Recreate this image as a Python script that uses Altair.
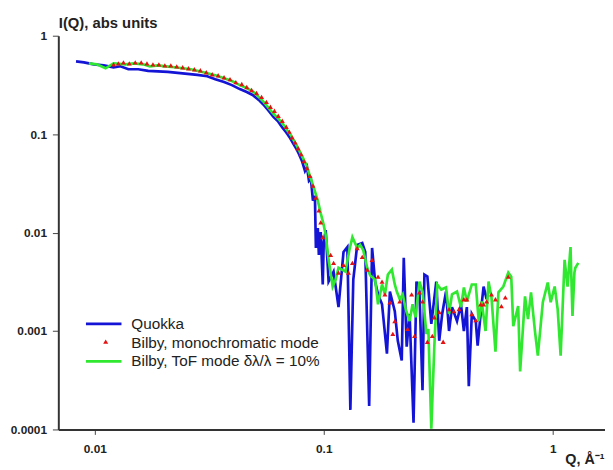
import altair as alt
import pandas as pd

FONT = "Liberation Sans"
BLUE = "#1414d6"
GREEN = "#2fe82f"
RED = "#e41212"

quokka_q = [0.00828, 0.00897, 0.0099, 0.01094, 0.01208, 0.01294, 0.01402, 0.01548, 0.0171, 0.01888,
            0.02084, 0.02301, 0.0254, 0.02806, 0.031, 0.0336, 0.0367, 0.0397, 0.043, 0.0461,
            0.0489, 0.052, 0.0546, 0.0574, 0.0603, 0.0633, 0.0659, 0.0686, 0.0714, 0.0735,
            0.0757, 0.078, 0.0804, 0.0828, 0.0845, 0.0862, 0.0879, 0.0897, 0.0915, 0.0924,
            0.0942, 0.0952, 0.097, 0.099, 0.1, 0.102, 0.105, 0.1104, 0.116, 0.122,
            0.1268, 0.1307, 0.1346, 0.140, 0.1473, 0.1518, 0.1579, 0.1626, 0.1676, 0.1726,
            0.1797, 0.1888, 0.1945, 0.2043, 0.2106, 0.2191, 0.2236, 0.2303, 0.2371, 0.2467,
            0.2541, 0.2618, 0.27, 0.2752, 0.2835, 0.295, 0.31, 0.3194, 0.3291, 0.342,
            0.3526, 0.3633, 0.382, 0.3974, 0.4093, 0.4217, 0.4301, 0.4433, 0.4613, 0.47,
            0.4844, 0.499, 0.5145]
quokka_i = [0.548, 0.536, 0.512, 0.5, 0.478, 0.489, 0.456, 0.456, 0.44, 0.434,
            0.43, 0.42, 0.41, 0.40, 0.388, 0.362, 0.338, 0.315, 0.287, 0.268,
            0.25, 0.223, 0.199, 0.173, 0.15, 0.134, 0.117, 0.104, 0.0906, 0.0807,
            0.0719, 0.0626, 0.0532, 0.0423, 0.0463, 0.0335, 0.0351, 0.0211, 0.0237, 0.00698,
            0.0111, 0.00593, 0.0101, 0.00297, 0.008, 0.0106, 0.00318, 0.00401, 0.00175, 0.00636,
            0.00714, 0.000158, 0.00333, 0.00748, 0.00783, 0.00636, 0.000173, 0.00698, 0.00318, 0.00236,
            0.00187, 0.000589, 0.00252, 0.00159, 0.000796, 0.000501, 0.00554, 0.000693, 0.00149, 0.000117,
            0.00318, 0.00252, 0.000251, 0.00374, 0.00357, 0.00118, 0.00318, 0.000796, 0.00149, 0.00252,
            0.001, 0.00175, 0.00126, 0.00187, 0.001, 0.00175, 0.000275, 0.00149, 0.00126, 0.00071,
            0.00149, 0.00283, 0.0021]

mono_q = [0.01208, 0.01268, 0.01334, 0.01415, 0.01502, 0.01595, 0.0169, 0.01795, 0.01905, 0.02023,
          0.02148, 0.0228, 0.0242, 0.02566, 0.02723, 0.02891, 0.03069, 0.03258, 0.03458, 0.0367,
          0.03896, 0.0413, 0.04385, 0.0461, 0.0484, 0.0509, 0.0535, 0.0562, 0.0585, 0.0609,
          0.0633, 0.0659, 0.0686, 0.0707, 0.0728, 0.075, 0.0773, 0.0796, 0.082, 0.0845,
          0.087, 0.0897, 0.0924, 0.0952, 0.097, 0.099,
          0.1072, 0.1104, 0.116, 0.122, 0.1282, 0.1334, 0.140, 0.1473, 0.1548, 0.1626,
          0.1726, 0.1797, 0.185, 0.1945, 0.2003, 0.2043, 0.2148, 0.2325, 0.242, 0.2492,
          0.2618, 0.27, 0.2835, 0.298, 0.304, 0.3194, 0.3323, 0.3526, 0.3707, 0.3896,
          0.4093, 0.4217, 0.4433, 0.4613, 0.4844, 0.499, 0.5145, 0.5403, 0.5623, 0.597,
          0.621, 0.6398]
mono_i = [0.512, 0.524, 0.536, 0.524, 0.536, 0.536, 0.524, 0.512, 0.512, 0.5,
          0.5, 0.489, 0.478, 0.467, 0.456, 0.446, 0.426, 0.406, 0.397, 0.379,
          0.362, 0.338, 0.323, 0.301, 0.281, 0.262, 0.239, 0.213, 0.19, 0.173,
          0.154, 0.137, 0.119, 0.106, 0.0927, 0.0826, 0.0719, 0.0626, 0.0532, 0.0453,
          0.0377, 0.03, 0.0227, 0.0168, 0.0127, 0.009,
          0.00593, 0.00493, 0.00392, 0.00471, 0.00392, 0.00493, 0.00698, 0.00566, 0.0042, 0.00529,
          0.00357, 0.00318, 0.00236, 0.00196, 0.000935, 0.00126, 0.002, 0.00105, 0.00236, 0.000893,
          0.00247, 0.002, 0.000778, 0.000893, 0.00138, 0.00156, 0.000778, 0.00167, 0.00159, 0.00167,
          0.0021, 0.0021, 0.00149, 0.00129, 0.00187, 0.00187, 0.002, 0.00236, 0.0021, 0.00179,
          0.0022, 0.00357]

tof_q = [0.00942, 0.0102, 0.01115, 0.01208, 0.0136, 0.01486, 0.01626, 0.0174, 0.01888, 0.0204,
         0.02235, 0.0242, 0.0262, 0.0286, 0.031, 0.0336, 0.0367, 0.0397, 0.043, 0.0461,
         0.0494, 0.052, 0.0546, 0.0574, 0.0603, 0.0633, 0.0666, 0.0693, 0.0714, 0.0735,
         0.0757, 0.0796, 0.0836, 0.087, 0.0905, 0.0942, 0.097, 0.1, 0.102, 0.105,
         0.1094, 0.1127, 0.116, 0.1244, 0.1294, 0.1334, 0.140, 0.1443, 0.1487, 0.1548,
         0.1595, 0.1676, 0.1726, 0.1797, 0.185, 0.1906, 0.1984, 0.2043, 0.2085, 0.2148,
         0.2213, 0.228, 0.2371, 0.2443, 0.2517, 0.2618, 0.27, 0.2808, 0.2864, 0.295,
         0.304, 0.3131, 0.326, 0.342, 0.3526, 0.3633, 0.382, 0.3974, 0.4093, 0.4217,
         0.4433, 0.4613, 0.4751, 0.4893, 0.509, 0.5245, 0.5403, 0.5623, 0.5794, 0.6087,
         0.6398, 0.659, 0.6725, 0.7066, 0.7207, 0.757, 0.78, 0.804, 0.8365, 0.861,
         0.9055, 0.9515, 0.98, 1.02, 1.051, 1.083, 1.127, 1.161, 1.196, 1.22,
         1.244, 1.256, 1.294]
tof_i = [0.524, 0.512, 0.467, 0.524, 0.512, 0.524, 0.512, 0.489, 0.5, 0.489,
         0.478, 0.467, 0.456, 0.435, 0.416, 0.397, 0.37, 0.346, 0.315, 0.294,
         0.268, 0.239, 0.213, 0.185, 0.161, 0.144, 0.125, 0.109, 0.1, 0.0885,
         0.0788, 0.0626, 0.0497, 0.0377, 0.0285, 0.0211, 0.0157, 0.0119, 0.00942, 0.00529,
         0.00283, 0.00333, 0.0044, 0.00401, 0.00666, 0.009, 0.00698, 0.00748, 0.00666, 0.0044,
         0.00366, 0.00333, 0.00187, 0.00297, 0.00236, 0.00374, 0.0042, 0.00297, 0.00252, 0.0021,
         0.00236, 0.00167, 0.00126, 0.00187, 0.00138, 0.00318, 0.00252, 0.000935, 0.00105, 0.000102,
         0.000693, 0.00297, 0.00264, 0.00277, 0.00149, 0.00236, 0.00252, 0.00175, 0.00277, 0.002,
         0.00297, 0.00297, 0.00126, 0.002, 0.001, 0.00318, 0.0022, 0.000617, 0.00247, 0.00283,
         0.00392, 0.00357, 0.00112, 0.00179, 0.000389, 0.00225, 0.00132, 0.00247, 0.001, 0.000562,
         0.00196, 0.00311, 0.00196, 0.00283, 0.00167, 0.000562, 0.00529, 0.00283, 0.00714, 0.00142,
         0.00392, 0.0044, 0.00493]

legend_labels = ["Quokka", "Bilby, monochromatic mode", "Bilby, ToF mode δλ/λ = 10%"]
x_ticks = [0.01, 0.1, 1]
y_ticks = [0.0001, 0.001, 0.01, 0.1, 1]

df_quokka = pd.DataFrame({"q": quokka_q, "i": quokka_i})
df_mono = pd.DataFrame({"q": mono_q, "i": mono_i})
df_tof = pd.DataFrame({"q": tof_q, "i": tof_i})

x_enc = alt.X(
    "q:Q",
    scale=alt.Scale(type="log", domain=[0.00693, 1.692], nice=False),
    axis=alt.Axis(
        values=x_ticks, format="~g", grid=False, tickSize=5, tickColor="#444", tickWidth=1,
        domainColor="#333", domainWidth=2, labelFont=FONT, labelFontSize=12,
        labelFontWeight="bold", labelColor="#222", labelPadding=9, labelFlush=False,
        labelOverlap=False, title="Q, Å⁻¹", titleFont=FONT, titleFontSize=14.5,
        titleFontWeight="bold", titleColor="#222", titleX=553, titleY=35,
        titleAlign="right", titleBaseline="alphabetic",
    ),
)
y_enc = alt.Y(
    "i:Q",
    scale=alt.Scale(type="log", domain=[0.0001, 1], nice=False),
    axis=alt.Axis(
        values=y_ticks, format="~g", grid=False, tickSize=6, tickColor="#444", tickWidth=1,
        domainColor="#333", domainWidth=2, labelFont=FONT, labelFontSize=12,
        labelFontWeight="bold", labelColor="#222", labelPadding=6, labelFlush=False,
        labelOverlap=False, title="I(Q), abs units", titleFont=FONT, titleFontSize=15,
        titleFontWeight="bold", titleColor="#222", titleAngle=0, titleX=0, titleY=-8,
        titleAlign="left", titleBaseline="alphabetic",
    ),
)

blue = alt.Chart(df_quokka).mark_line(color=BLUE, strokeWidth=2.7, clip=True).encode(x=x_enc, y=y_enc)
green = alt.Chart(df_tof).mark_line(color=GREEN, strokeWidth=2.7, clip=True).encode(x=x_enc, y=y_enc)
red = alt.Chart(df_mono).mark_point(shape="triangle-up", filled=True, color=RED, size=26,
                                    opacity=1, clip=True).encode(x=x_enc, y=y_enc)

one = pd.DataFrame({"k": [0]})
leg_blue = alt.Chart(one).mark_rule(color=BLUE, strokeWidth=2.7).encode(
    x=alt.value(28), x2=alt.value(64), y=alt.value(292))
leg_red = alt.Chart(one).mark_point(shape="triangle-up", filled=True, color=RED, size=26, opacity=1).encode(
    x=alt.value(48), y=alt.value(310))
leg_green = alt.Chart(one).mark_rule(color=GREEN, strokeWidth=2.7).encode(
    x=alt.value(28), x2=alt.value(64), y=alt.value(330))
leg_texts = [
    alt.Chart(one).mark_text(align="left", baseline="middle", font=FONT, fontSize=15.5, color="#222").encode(
        x=alt.value(74), y=alt.value(yy), text=alt.value(lbl))
    for lbl, yy in zip(legend_labels, [292, 311, 330])
]

chart = alt.layer(blue, green, red, leg_blue, leg_red, leg_green, *leg_texts).properties(
    width=554, height=399,
    autosize=alt.AutoSizeParams(type="none"),
    padding={"left": 51, "top": 25, "right": 0, "bottom": 38},
    background="white",
).configure_view(stroke=None)

chart.save("out.html", embed_options={"renderer": "svg", "actions": False})
